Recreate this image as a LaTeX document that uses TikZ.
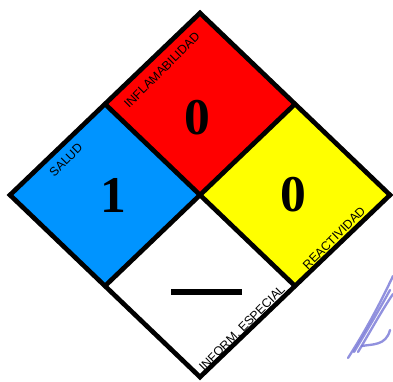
\documentclass[tikz,border=0pt]{standalone}
\usepackage{fontspec}
\setmainfont{Liberation Serif}
\setsansfont{Liberation Sans}
\usetikzlibrary{calc}

\definecolor{nfpablue}{RGB}{0,148,255}
\definecolor{nfpared}{RGB}{255,0,0}
\definecolor{nfpayellow}{RGB}{255,255,0}
\definecolor{inkblue}{RGB}{118,118,214}

\begin{document}
\begin{tikzpicture}[
    x=0.3mm, y=-0.3mm,
    panel/.style={draw=black, line width=4pt, line join=miter},
    edgelabel/.style={font=\fontsize{10.5}{12}\selectfont\sffamily, rotate=45, inner sep=0pt},
    rating/.style={font=\fontsize{44}{44}\selectfont\bfseries, inner sep=0pt},
    ink/.style={draw=inkblue, line width=2pt, line cap=round, opacity=0.8},
]
\useasboundingbox (0,0) rectangle (393,381);

% ══════════════════════════════════════
% Corners of the diamond
% ══════════════════════════════════════
\coordinate (T) at (200,13);
\coordinate (L) at (10,195);
\coordinate (R) at (390,195);
\coordinate (B) at (200,377);
\coordinate (C) at (200,195);
\coordinate (TL) at ($(T)!0.5!(L)$);
\coordinate (TR) at ($(T)!0.5!(R)$);
\coordinate (BL) at ($(B)!0.5!(L)$);
\coordinate (BR) at ($(B)!0.5!(R)$);

% ── coloured quarters ──
\fill[nfpared]    (T) -- (TR) -- (C) -- (TL) -- cycle;
\fill[nfpablue]   (L) -- (TL) -- (C) -- (BL) -- cycle;
\fill[nfpayellow] (R) -- (TR) -- (C) -- (BR) -- cycle;
\fill[white]      (B) -- (BL) -- (C) -- (BR) -- cycle;

% ── frame ──
\draw[panel] (TL) -- (BR);
\draw[panel] (TR) -- (BL);
\draw[panel] (T) -- (R) -- (B) -- (L) -- cycle;

% ══════════════════════════════════════
% Edge labels
% ══════════════════════════════════════
\node[edgelabel] (lflam)  at (162,70)  {INFLAMABILIDAD};
\node[edgelabel] (lsalud) at (66,160)  {SALUD};
\node[edgelabel] (lreact) at (334,238) {REACTIVIDAD};
\node[edgelabel] (lesp)   at (242,328) {INFORM. ESPECIAL};

% ══════════════════════════════════════
% Ratings
% ══════════════════════════════════════
\node[rating] (nsalud) at (113,195) {1};
\node[rating] (nflam)  at (197,118) {0};
\node[rating] (nreact) at (293,195) {0};
\draw[line width=5pt] (171,292) -- (242,292);

% ── pen stroke at the side ──
\draw[ink] (348,358) .. controls (362,336) and (376,312) .. (393,276);
\draw[ink] (354,352) .. controls (366,332) and (378,312) .. (390,290);
\draw[ink] (358,352) .. controls (370,332) and (382,310) .. (393,294);
\draw[ink] (362,346) .. controls (372,344) and (386,346) .. (390,330);
\end{tikzpicture}
\end{document}
